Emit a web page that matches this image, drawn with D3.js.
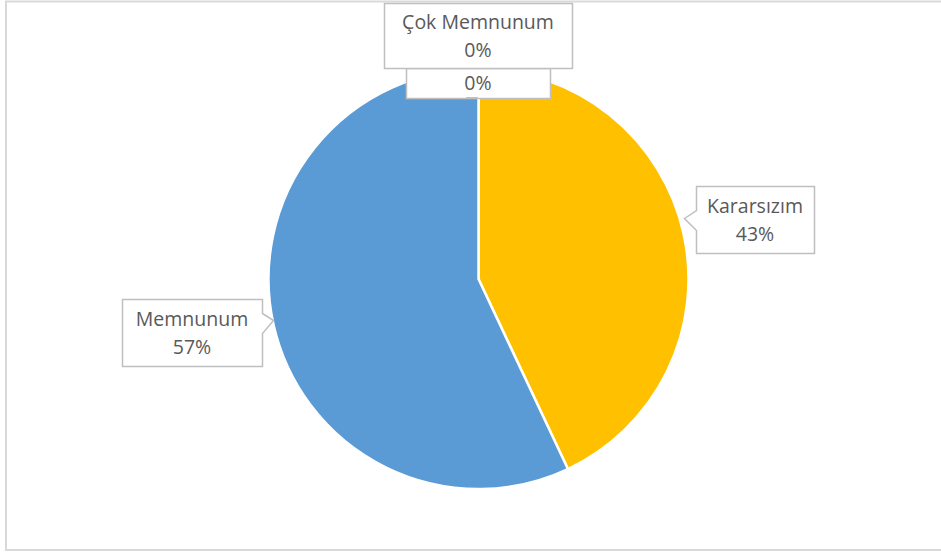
<!DOCTYPE html>
<html>
<head>
  <meta charset="utf-8">
  <script src="https://d3js.org/d3.v7.min.js"></script>
  <style>
    body { margin:0; background:#fff; }
    text { font-family: "Open Sans", "Noto Sans", sans-serif; fill:#595959; }
  </style>
</head>
<body>
  <script>
    // data
    var categories = ["Çok Memnunum", "", "Kararsızım", "Memnunum"];
    var values = [0, 0, 43, 57];
    var colors = ["#70AD47", "#ED7D31", "#FFC000", "#5B9BD5"];

    var width = 941, height = 553;
    var cx = 478.5, cy = 279, r = 210;

    var svg = d3.select("body").append("svg")
      .attr("width", width)
      .attr("height", height);

    // chart area border
    svg.append("rect")
      .attr("x", 6).attr("y", 1.5)
      .attr("width", 940).attr("height", 548.5)
      .attr("fill", "none")
      .attr("stroke", "#D9D9D9")
      .attr("stroke-width", 2);

    var data = categories.map(function(c, i) { return { name: c, value: values[i], color: colors[i] }; });

    var pie = d3.pie().sort(null).value(function(d) { return d.value; });
    var arc = d3.arc().innerRadius(0).outerRadius(r);
    var arcs = pie(data);

    var g = svg.append("g").attr("transform", "translate(" + cx + "," + cy + ")");

    g.selectAll("path")
      .data(arcs)
      .enter()
      .append("path")
      .attr("d", arc)
      .attr("fill", function(d) { return d.data.color; })
      .attr("stroke", "#fff")
      .attr("stroke-width", 2.5)
      .attr("stroke-linejoin", "round");

    // label callouts: box + pointer tip
    var labels = [
      { i: 1, x: 406, y: 68, w: 144, h: 30, lines: ["0%"], tip: null },
      { i: 0, x: 384, y: 3, w: 188, h: 65, lines: [categories[0], "0%"], tip: null },
      { i: 2, x: 696, y: 186, w: 118, h: 67, lines: [categories[2], "43%"], tip: "left" },
      { i: 3, x: 122, y: 299, w: 140, h: 67, lines: [categories[3], "57%"], tip: "right" }
    ];

    var fmt = d3.format(".0%");
    var total = d3.sum(values);

    labels.forEach(function(l) {
      var x0 = l.x + 0.5, y0 = l.y + 0.5, x1 = l.x + l.w + 0.5, y1 = l.y + l.h + 0.5;
      var p;
      if (l.tip === "left") {
        var ty = y0 + 30;
        p = [[x0, y0], [x1, y0], [x1, y1], [x0, y1], [x0, ty + 14], [x0 - 12, ty + 14 - 12], [x0, ty - 6]];
      } else if (l.tip === "right") {
        var ty2 = y0 + 14;
        p = [[x0, y0], [x1, y0], [x1, ty2], [x1 + 11, ty2 + 7], [x1, ty2 + 20], [x1, y1], [x0, y1]];
      } else {
        p = [[x0, y0], [x1, y0], [x1, y1], [x0, y1]];
      }
      svg.append("path")
        .attr("d", "M" + p.join("L") + "Z")
        .attr("fill", "#fff")
        .attr("stroke", "#BFBFBF")
        .attr("stroke-width", 1.5);

      var pct = fmt(values[l.i] / total);
      var txt = l.lines.slice();
      txt[txt.length - 1] = pct;
      var lineH = 28;
      var startY = l.y + l.h / 2 - (txt.length - 1) * lineH / 2 + 7;
      txt.forEach(function(t, k) {
        svg.append("text")
          .attr("x", l.x + l.w / 2)
          .attr("y", startY + k * lineH)
          .attr("text-anchor", "middle")
          .attr("font-size", 19.5)
          .text(t);
      });
    });

    // small pointer of the 0% box
    svg.append("rect")
      .attr("x", 466).attr("y", 97)
      .attr("width", 12).attr("height", 2)
      .attr("fill", "#BFBFBF");
  </script>
</body>
</html>
